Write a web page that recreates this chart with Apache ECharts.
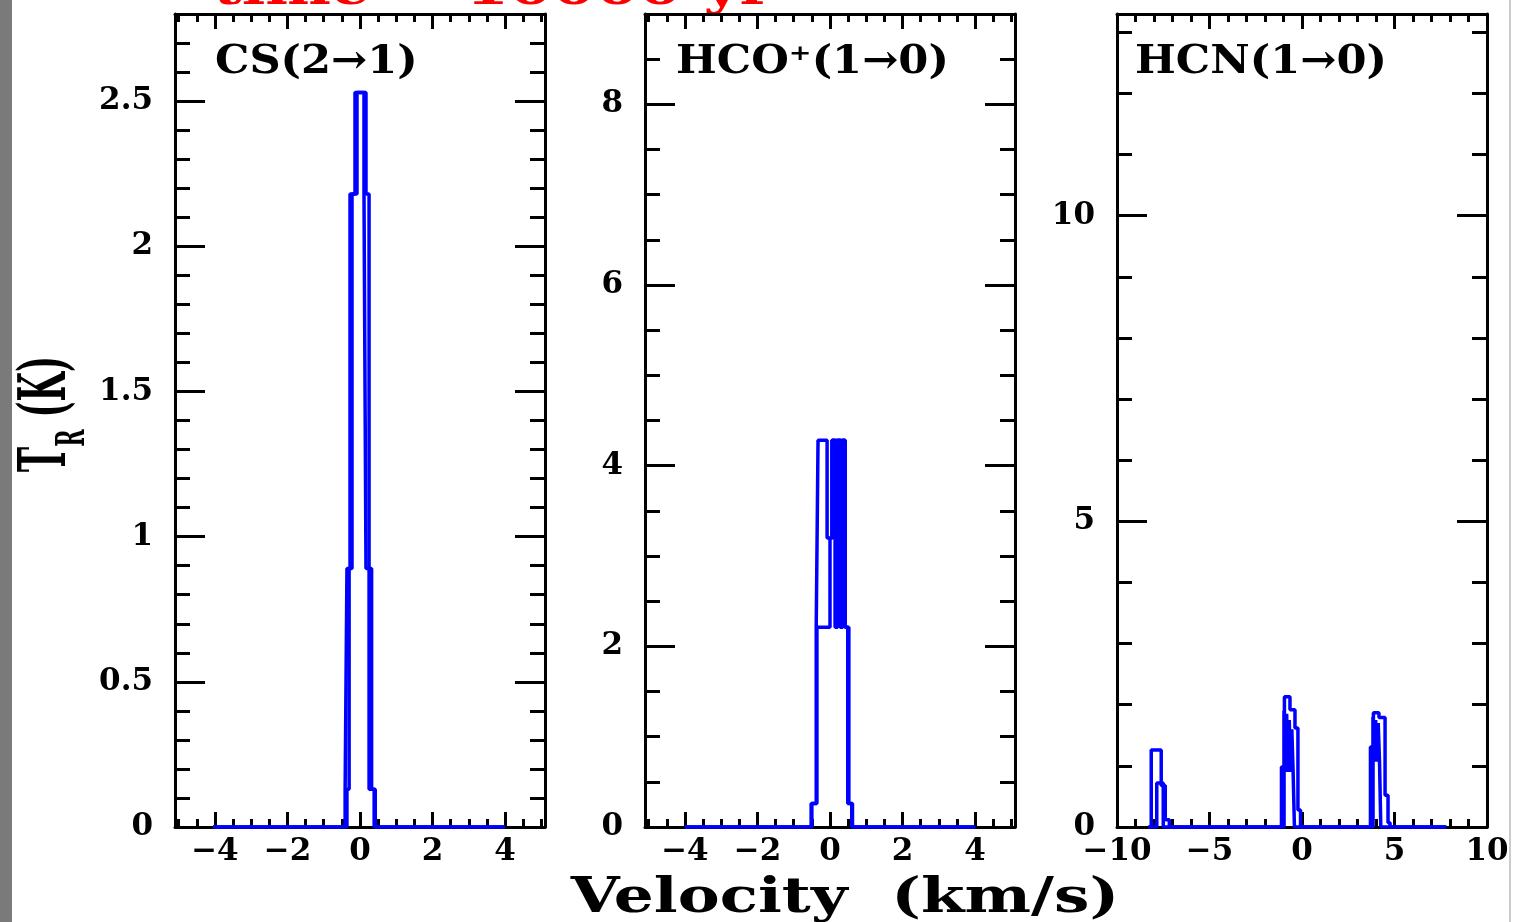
<!DOCTYPE html>
<html>
<head>
<meta charset="utf-8">
<title>Spectra</title>
<script src="https://cdn.jsdelivr.net/npm/echarts@6/dist/echarts.min.js"></script>
<style>
html, body { margin: 0; padding: 0; background: #fff; }
#chart { width: 1513px; height: 922px; }
</style>
</head>
<body>
<div id="chart"></div>
<script>
// CS(2-1): bin edges (km/s) and brightness temperature per bin (K), two overlapping spectra
var csEdgesA = [-4.05, -0.41, -0.36, -0.275, -0.138, 0.11, 0.165, 0.25, 0.39, 4.0];
var csTempsA = [0, 0.13, 0.89, 2.18, 2.53, 2.18, 0.89, 0.13, 0];
var csEdgesB = [-4.05, -0.36, -0.30, -0.22, -0.083, 0.165, 0.25, 0.32, 0.42, 4.0];
var csTempsB = [0, 0.13, 0.89, 2.18, 2.53, 2.18, 0.89, 0.13, 0];

// HCO+(1-0)
var hcoEdgesA = [-4.0, -0.52, -0.38, -0.33, -0.08, 0.05, 0.41, 0.49, 0.60, 4.0];
var hcoTempsA = [0, 0.26, 2.21, 4.28, 3.2, 4.28, 2.21, 0.26, 0];
var hcoEdgesB = [-4.0, -0.50, -0.36, 0.0, 0.07, 0.14, 0.21, 0.28, 0.35, 0.42, 0.52, 0.62, 4.0];
var hcoTempsB = [0, 0.26, 2.21, 3.2, 4.28, 2.21, 4.28, 2.21, 4.28, 2.21, 0.26, 0];

// HCN(1-0), three hyperfine components
var hcnEdgesA = [-8.3, -8.15, -7.61, -7.39, -7.17, -1.11, -0.95, -0.65, -0.38, -0.22, -0.08,
                 3.70, 3.86, 4.16, 4.49, 4.65, 4.76, 7.8];
var hcnTempsA = [0, 1.26, 0.68, 0.12, 0, 0.98, 2.13, 1.92, 1.62, 0.28, 0,
                 1.31, 1.87, 1.79, 0.52, 0.07, 0];
var hcnEdgesB = [-8.3, -7.85, -7.50, -0.97, -0.90, -0.83, -0.76, -0.69, -0.62, -0.55, -0.48, -0.41,
                 3.84, 3.91, 3.98, 4.05, 4.12, 4.19, 4.26, 7.8];
var hcnTempsB = [0, 0.72, 0, 1.9, 0.9, 1.85, 0.9, 1.75, 0.9, 1.6, 0.9, 0,
                 1.8, 1.07, 1.75, 1.07, 1.7, 1.07, 0];

// tick labels
var csXTicks = [-4, -2, 0, 2, 4];
var csYTicks = [0, 0.5, 1, 1.5, 2, 2.5];
var hcoXTicks = [-4, -2, 0, 2, 4];
var hcoYTicks = [0, 2, 4, 6, 8];
var hcnXTicks = [-10, -5, 0, 5, 10];
var hcnYTicks = [0, 5, 10];

var titles = ['CS(2\u21921)', 'HCO\u207A(1\u21920)', 'HCN(1\u21920)'];

function range(a, b, step) {
    var out = [];
    for (var v = a; v <= b + 1e-9; v += step) out.push(Math.round(v * 1000) / 1000);
    return out;
}

function stepData(edges, temps) {
    var pts = [];
    for (var i = 0; i < temps.length; i++) pts.push([edges[i], temps[i]]);
    pts.push([edges[edges.length - 1], temps[temps.length - 1]]);
    return pts;
}

var panels = [
    {left: 175, titleX: 215, xMin: -5.1, xMax: 5.1, yMax: 2.8, xMajor: csXTicks, xMinor: range(-5, 5, 0.5),
     yMajor: csYTicks, yMinor: range(0, 2.7, 0.1),
     spectra: [stepData(csEdgesA, csTempsA), stepData(csEdgesB, csTempsB)]},
    {left: 645, titleX: 676, xMin: -5.1, xMax: 5.1, yMax: 9, xMajor: hcoXTicks, xMinor: range(-5, 5, 0.5),
     yMajor: hcoYTicks, yMinor: range(0, 8.5, 0.5),
     spectra: [stepData(hcoEdgesA, hcoTempsA), stepData(hcoEdgesB, hcoTempsB)]},
    {left: 1117, titleX: 1135, xMin: -10, xMax: 10, yMax: 13.3, xMajor: hcnXTicks, xMinor: range(-9, 9, 1),
     yMajor: hcnYTicks, yMinor: range(0, 13, 1),
     spectra: [stepData(hcnEdgesA, hcnTempsA), stepData(hcnEdgesB, hcnTempsB)]}
];

var labelFont = {fontFamily: 'DejaVu Serif', fontWeight: 'bold', fontSize: 31, color: '#000'};
function fmt(v) { return (v < 0 ? '\u2212' : '') + Math.abs(v); }

function axis(g, pos, ticks, len, major, label, lim) {
    return {
        gridIndex: g, type: 'value', position: pos, min: lim[0], max: lim[1],
        axisLine: {show: major, onZero: false, lineStyle: {color: '#000', width: 3}},
        axisTick: {show: true, inside: true, length: len, customValues: ticks,
                   lineStyle: {color: '#000', width: 3}},
        axisLabel: label ? Object.assign({customValues: ticks, formatter: fmt,
                   margin: (pos === 'left' ? 22 : 9)}, labelFont) : {show: false},
        splitLine: {show: false}
    };
}

var grids = [], xAxes = [], yAxes = [], series = [], graphics = [];
panels.forEach(function (p, g) {
    grids.push({left: p.left, top: 14, width: 370, height: 813});
    var xl = [p.xMin, p.xMax], yl = [0, p.yMax];
    xAxes.push(axis(g, 'bottom', p.xMajor, 15, true, true, xl));
    xAxes.push(axis(g, 'bottom', p.xMinor, 8, false, false, xl));
    xAxes.push(axis(g, 'top', p.xMajor, 15, true, false, xl));
    xAxes.push(axis(g, 'top', p.xMinor, 8, false, false, xl));
    yAxes.push(axis(g, 'left', p.yMajor, 30, true, true, yl));
    yAxes.push(axis(g, 'left', p.yMinor, 15, false, false, yl));
    yAxes.push(axis(g, 'right', p.yMajor, 30, true, false, yl));
    yAxes.push(axis(g, 'right', p.yMinor, 15, false, false, yl));
    p.spectra.forEach(function (d) {
        series.push({type: 'line', xAxisIndex: g * 4, yAxisIndex: g * 4, data: d, step: 'end',
                     symbol: 'none', silent: true, clip: true,
                     lineStyle: {color: '#0000ff', width: 3.5}});
    });
    graphics.push({type: 'text', x: p.titleX, y: 63, scaleX: 1.08,
                   style: {text: titles[g], fill: '#000', font: 'bold 40px "DejaVu Serif"',
                           align: 'left', verticalAlign: 'middle'}});
});

graphics.push({type: 'rect', shape: {x: 0, y: 0, width: 12, height: 922}, style: {fill: '#7a7a7a'}});
graphics.push({type: 'rect', shape: {x: 1509, y: 0, width: 2, height: 922}, style: {fill: '#cccccc'}});
graphics.push({type: 'text', x: 845, y: 900, scaleX: 1.31,
               style: {text: 'Velocity  (km/s)', fill: '#000', font: 'bold 48px "DejaVu Serif"',
                       align: 'center', verticalAlign: 'middle'}});
graphics.push({type: 'text', x: 213, y: 15, scaleX: 1.35,
               style: {text: 'time = 10000 yr', fill: '#ff0000', font: 'bold 46px "DejaVu Serif"',
                       align: 'left', verticalAlign: 'bottom'}});
graphics.push({type: 'text', x: 48, y: 414, rotation: Math.PI / 2, scaleY: 1.9,
               style: {text: '{a|T}{b|R}{a| (K)}', align: 'center', verticalAlign: 'middle', fill: '#000',
                       rich: {a: {fontFamily: 'DejaVu Serif', fontWeight: 'bold', fontSize: 34, lineHeight: 34,
                                  verticalAlign: 'top'},
                              b: {fontFamily: 'DejaVu Serif', fontWeight: 'bold', fontSize: 21, lineHeight: 21,
                                  padding: [20, 0, 0, 0], verticalAlign: 'top'}}}});

var chart = echarts.init(document.getElementById('chart'));
chart.setOption({
    animation: false,
    backgroundColor: '#fff',
    grid: grids,
    xAxis: xAxes,
    yAxis: yAxes,
    series: series,
    graphic: graphics
});
</script>
</body>
</html>
